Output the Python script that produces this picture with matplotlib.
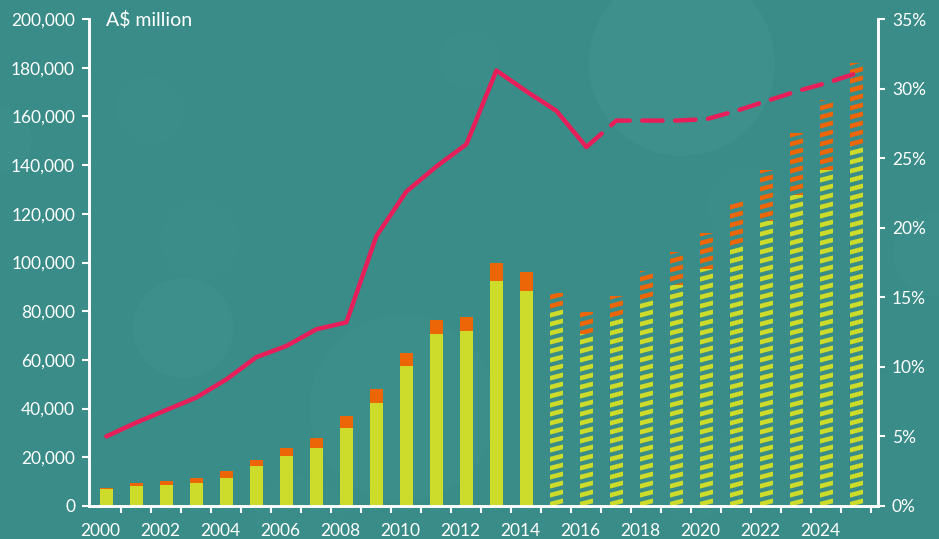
import numpy as np
import matplotlib
matplotlib.use("Agg")
import matplotlib.pyplot as plt
from matplotlib.patches import Circle
from matplotlib.collections import LineCollection

# values in A$ million, share in %
years = list(range(2000, 2026))
base = [7.0, 8.2, 8.6, 9.4, 11.5, 16.4, 20.5, 23.8, 32.0, 42.2, 57.4, 70.5, 72.0,
        92.6, 88.5, 81.1, 70.5, 77.7, 85.1, 90.6, 97.5, 106.7, 116.9, 127.9, 138.1, 147.7]
total = [7.4, 9.4, 10.2, 11.5, 14.5, 18.9, 23.8, 27.9, 36.9, 48.0, 62.7, 76.2, 77.7,
         99.6, 96.3, 87.6, 79.8, 86.2, 96.4, 104.2, 112.2, 125.1, 138.1, 153.1, 166.8, 181.8]
share = [5.0, 6.0, 6.9, 7.8, 9.1, 10.7, 11.5, 12.7, 13.2, 19.4, 22.6, 24.4, 26.0,
         31.3, 29.8, 28.4, 25.8, 27.7, 27.7, 27.7, 27.8, 28.4, 29.1, 29.8, 30.4, 31.1]
first_forecast = 2015
line_split = 2016

base = np.array(base) * 1000
total = np.array(total) * 1000
top = total - base

BG = "#3a8c88"
YELLOW = "#cddb2a"
ORANGE = "#ec6608"
RED = "#e61f5a"
WHITE = "white"

plt.rcParams["font.family"] = ["Lato", "DejaVu Sans"]

fig = plt.figure(figsize=(9.39, 5.39), dpi=100)
fig.patch.set_facecolor(BG)

# soft bokeh background
bg = fig.add_axes([0, 0, 1, 1], zorder=-10)
bg.set_xlim(0, 939)
bg.set_ylim(539, 0)
bg.axis("off")
for cx, cy, r, a in [(682, 63, 93, 0.16), (183, 328, 50, 0.13), (403, 408, 93, 0.10),
                     (745, 205, 38, 0.07), (200, 240, 40, 0.05), (0, 140, 32, 0.08),
                     (935, 255, 42, 0.08), (150, 110, 34, 0.05), (470, 60, 30, 0.05),
                     (300, 520, 45, 0.05), (690, 470, 50, 0.05)]:
    bg.add_patch(Circle((cx, cy), r, color="#52a8a6", alpha=a, lw=0))

ax = fig.add_axes([89 / 939, 33 / 539, 789 / 939, 487 / 539])
ax.set_facecolor("none")
ax2 = ax.twinx()
ax.set_zorder(1)
ax2.set_zorder(2)

bw = 0.44
ax.set_xlim(1999.42, 2025.72)
ax.set_ylim(0, 200000)
ax2.set_ylim(0, 35)

# px per data unit for the stripes
px_year = 789 / (2025.72 - 1999.42)
px_unit = 487 / 200000
step = 9 / px_unit
slope = 0.26 * px_year / px_unit


def striped(x, bottom, height, color):
    patch = ax.bar(x, height, bw, bottom=bottom, color="none", lw=0)[0]
    x0, x1 = x - bw, x + bw
    ks = np.arange(-2, int((bottom + height) / step) + 3)
    segs = [[(x0, k * step), (x1, k * step + slope * (x1 - x0))] for k in ks]
    lc = LineCollection(segs, colors=color, linewidths=3.3, capstyle="butt")
    ax.add_collection(lc, autolim=False)
    lc.set_clip_path(patch)


for i, yr in enumerate(years):
    if yr < first_forecast:
        ax.bar(yr, base[i], bw, color=YELLOW, lw=0)
        ax.bar(yr, top[i], bw, bottom=base[i], color=ORANGE, lw=0)
    else:
        striped(yr, 0, base[i], YELLOW)
        striped(yr, base[i], top[i], ORANGE)

yrs = np.array(years)
sh = np.array(share)
solid = yrs <= line_split
dash = yrs >= line_split
ax2.plot(yrs[solid], sh[solid], color=RED, lw=3.2, solid_capstyle="round",
         solid_joinstyle="round")
ax2.plot(yrs[dash], sh[dash], color=RED, lw=3.2, dashes=(4.6, 2.8),
         dash_capstyle="round", dash_joinstyle="round")

# axes styling
for a in (ax, ax2):
    for s in a.spines.values():
        s.set_color(WHITE)
        s.set_linewidth(1.8)
    a.spines["top"].set_visible(False)

ax.set_yticks(np.arange(0, 200001, 20000))
ax.set_yticklabels([f"{v:,}" for v in range(0, 200001, 20000)])
ax2.set_yticks(range(0, 36, 5))
ax2.set_yticklabels([f"{v}%" for v in range(0, 36, 5)])

even = [y for y in years if y % 2 == 0 and y < 2025]
ax.set_xticks([y - 0.2 for y in even])
ax.set_xticklabels([str(y) for y in even])
ax.set_xticks([y + 0.5 for y in years], minor=True)
ax.tick_params(axis="x", which="major", length=0, pad=12, colors=WHITE, labelsize=12.5)
ax.tick_params(axis="x", which="minor", length=5, width=1.5, color=WHITE)
ax.tick_params(axis="y", length=5, width=1.5, colors=WHITE, labelsize=12.5, pad=5)
ax2.tick_params(axis="y", length=5, width=1.5, colors=WHITE, labelsize=12.5, pad=5)

fig.text(106 / 939, 1 - 20 / 539, "A$ million", color=WHITE, fontsize=14,
         va="center", ha="left")

fig.savefig("out.png", dpi=100, facecolor=BG)
